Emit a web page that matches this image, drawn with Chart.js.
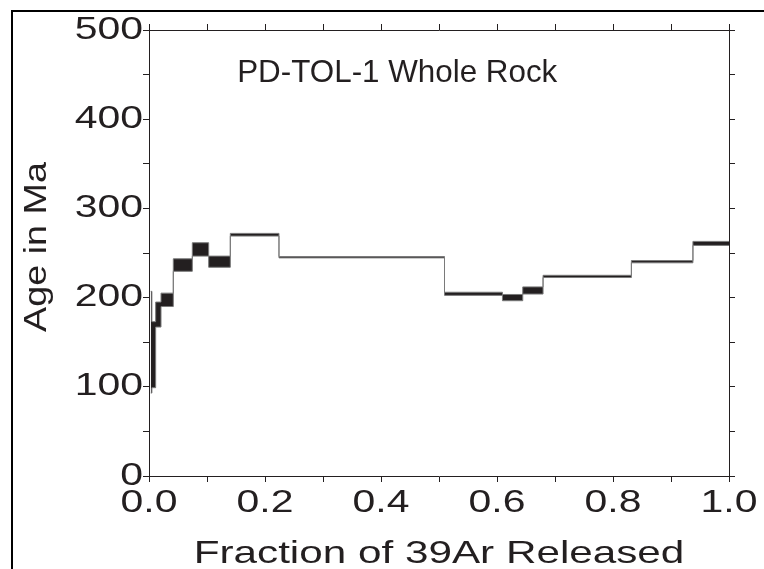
<!DOCTYPE html>
<html>
<head>
<meta charset="utf-8">
<script src="https://cdn.jsdelivr.net/npm/chart.js@4/dist/chart.umd.min.js"></script>
<style>
  html, body { margin: 0; padding: 0; background: #fff; }
  #wrap { position: relative; width: 764px; height: 569px; }
</style>
</head>
<body>
<div id="wrap"><canvas id="c" width="764" height="569"></canvas></div>
<script>
// ---- data ----
const stepStart = [0.003, 0.005, 0.0115, 0.0207, 0.0419, 0.0747, 0.1029, 0.1402, 0.2241, 0.5095, 0.6094, 0.6444, 0.6794, 0.8317, 0.9378];
const stepEndLast = 1.0;
const ageLow  = [93, 99, 167, 190, 229.5, 246.5, 234, 269, 244.5, 202.5, 196.5, 204, 222.5, 239, 258.5];
const ageHigh = [207, 173, 195, 205, 243.5, 261.5, 246.5, 272, 246, 206, 203.5, 212, 225, 241.5, 263];
const xTickValues = [0, 0.2, 0.4, 0.6, 0.8, 1.0];
const yTickValues = [0, 100, 200, 300, 400, 500];
const chartTitle = 'PD-TOL-1 Whole Rock';
const xTitle = 'Fraction of 39Ar Released';
const yTitle = 'Age in Ma';

// ---- build step series ----
function stepPoints(vals) {
  const pts = stepStart.map((x, i) => ({ x: x, y: vals[i] }));
  pts.push({ x: stepEndLast, y: vals[vals.length - 1] });
  return pts;
}

const INK = '#231f20';
const FONT = "'Liberation Sans', Arial, sans-serif";
const STRETCH_DEFAULT = 1.32;
const STRETCH_BY_TEXT = { [chartTitle]: 0.98, [yTitle]: 1.18 };
const SHIFT_BY_TEXT = { [yTitle]: 6 };

// text horizontal stretch (reference text is drawn wide)
const stretchPlugin = {
  id: 'stretchText',
  beforeInit(chart) {
    const ctx = chart.ctx;
    const of = ctx.fillText.bind(ctx);
    const om = ctx.measureText.bind(ctx);
    const sf = t => (STRETCH_BY_TEXT[t] !== undefined ? STRETCH_BY_TEXT[t] : STRETCH_DEFAULT);
    ctx.fillText = function (t, x, y) {
      ctx.save();
      ctx.translate(x + (SHIFT_BY_TEXT[t] || 0), y);
      ctx.scale(sf(t), 1);
      of(t, 0, 0);
      ctx.restore();
    };
    ctx.measureText = function (t) {
      const m = om(t);
      const s = sf(t);
      return {
        width: m.width * s,
        actualBoundingBoxAscent: m.actualBoundingBoxAscent,
        actualBoundingBoxDescent: m.actualBoundingBoxDescent,
        actualBoundingBoxLeft: m.actualBoundingBoxLeft * s,
        actualBoundingBoxRight: m.actualBoundingBoxRight * s
      };
    };
  }
};

const framePlugin = {
  id: 'frame',
  beforeDraw(chart) {
    const ctx = chart.ctx;
    ctx.save();
    ctx.fillStyle = '#000';
    ctx.fillRect(11, 10, 764, 2);
    ctx.fillRect(11, 10, 2, 569);
    ctx.restore();
  }
};

const innerTitlePlugin = {
  id: 'innerTitle',
  afterDatasetsDraw(chart, args, opts) {
    const ctx = chart.ctx;
    const xs = chart.scales.x, ys = chart.scales.y;
    ctx.save();
    ctx.font = opts.size + 'px ' + FONT;
    ctx.fillStyle = INK;
    ctx.textAlign = 'center';
    ctx.textBaseline = 'middle';
    ctx.fillText(opts.text, xs.getPixelForValue(opts.x), ys.getPixelForValue(opts.y));
    ctx.restore();
  }
};

const gridCommon = {
  drawOnChartArea: false,
  drawTicks: true,
  tickLength: 6,
  color: INK,
  tickColor: INK,
  lineWidth: 1
};

new Chart(document.getElementById('c'), {
  type: 'line',
  data: {
    datasets: [
      {
        label: 'upper',
        data: stepPoints(ageHigh),
        stepped: 'before',
        borderColor: '#7a7a7a',
        borderWidth: 1,
        pointRadius: 0,
        fill: false
      },
      {
        label: 'lower',
        data: stepPoints(ageLow),
        stepped: 'before',
        borderColor: '#7a7a7a',
        borderWidth: 1,
        pointRadius: 0,
        backgroundColor: INK,
        fill: '-1'
      }
    ]
  },
  options: {
    responsive: false,
    animation: false,
    devicePixelRatio: 1,
    layout: { padding: 0 },
    plugins: {
      legend: { display: false },
      tooltip: { enabled: false },
      innerTitle: { text: chartTitle, x: 0.428, y: 452, size: 32 }
    },
    scales: {
      x: {
        type: 'linear', position: 'bottom', min: 0, max: 1,
        grid: gridCommon,
        border: { display: true, color: INK, width: 1 },
        ticks: {
          stepSize: 0.1, autoSkip: false, maxRotation: 0, color: INK, padding: 3,
          font: { family: FONT, size: 31 },
          callback: v => xTickValues.some(t => Math.abs(t - v) < 1e-6) ? v.toFixed(1) : ''
        },
        title: { display: true, text: xTitle, color: INK, font: { family: FONT, size: 32, lineHeight: 1 }, padding: { top: 0, bottom: -1 } },
        afterFit: s => { s.height = 93; }
      },
      x2: {
        type: 'linear', position: 'top', min: 0, max: 1,
        grid: gridCommon,
        border: { display: true, color: INK, width: 1 },
        ticks: { stepSize: 0.1, display: false },
        afterFit: s => { s.height = 30; }
      },
      y: {
        type: 'linear', position: 'left', min: 0, max: 500,
        grid: gridCommon,
        border: { display: true, color: INK, width: 1 },
        ticks: {
          stepSize: 50, autoSkip: false, color: INK, padding: 0,
          font: { family: FONT, size: 31 },
          callback: v => yTickValues.includes(v) ? String(v) : ''
        },
        title: { display: true, text: yTitle, color: INK, font: { family: FONT, size: 32, lineHeight: 1 }, padding: { top: 21, bottom: 0 } },
        afterFit: s => { s.width = 149; }
      },
      y2: {
        type: 'linear', position: 'right', min: 0, max: 500,
        grid: gridCommon,
        border: { display: true, color: INK, width: 1 },
        ticks: { stepSize: 50, display: false },
        afterFit: s => { s.width = 35; }
      }
    }
  },
  plugins: [stretchPlugin, framePlugin, innerTitlePlugin]
});
</script>
</body>
</html>
